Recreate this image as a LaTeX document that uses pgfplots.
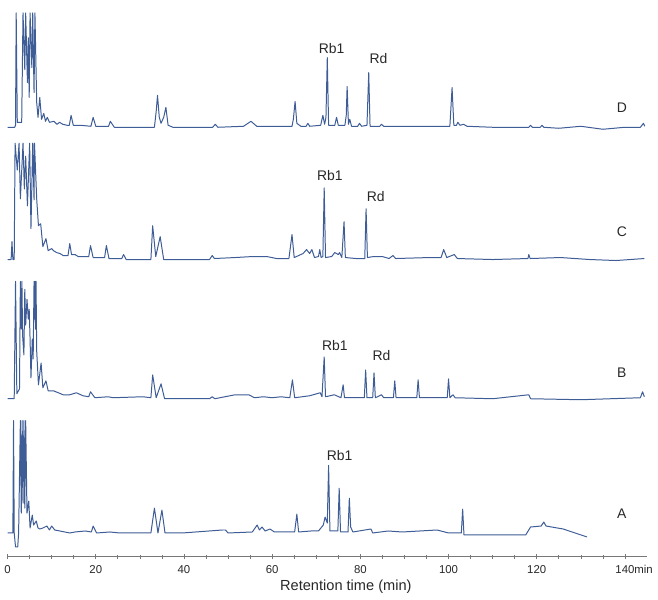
\documentclass[border=0pt]{standalone}
\usepackage{pgfplots}
\usepackage{pgfplotstable}
\pgfplotsset{compat=1.18}
\usepackage{fontspec}
\setmainfont{Liberation Sans}
\definecolor{trace}{RGB}{62,92,150}
\definecolor{axisgray}{RGB}{120,120,120}
\definecolor{labelgray}{RGB}{40,40,40}

% intensities above each trace's own baseline
\pgfplotstableread{
t y
0 0
1.6 0
1.8 2
1.95 115
2.2 5
3.2 5
3.5 115
3.9 58
4.1 115
4.5 45
4.7 90
4.9 30
5.1 115
5.5 60
5.7 115
6.0 35
6.2 115
6.6 25
6.9 10
7.3 30
7.7 8
8.2 14
8.6 6
9.0 10
9.5 5
10.5 6
11.2 3
11.8 5
12.5 3
13.5 2
14.0 2
14.4 12
14.9 2
16.5 2
18.9 1
19.4 10
20.0 1
22.9 1
23.3 6
24.2 0
28 0
33.3 0
33.7 16
34.0 32
34.4 10
34.8 4
35.4 10
35.9 20
36.4 2
37.5 0
46.5 0
47.1 3
47.7 0
53.5 1
55.2 6
56.5 1
64.5 1
64.8 8
65.2 26
65.6 4
66.5 1
67.7 1
68.1 4
68.5 1
71.0 2
71.5 12
71.9 3
72.2 10
72.5 70
72.8 2
74.2 2
74.6 10
75.0 2
76.5 2
76.8 12
77.0 41
77.3 3
77.6 8
78.0 1
79.4 1
79.8 4
80.3 1
81.5 2
81.9 55
82.2 1
84.4 1
84.8 3
85.3 1
95 1
100.3 1
100.8 40
101.2 2
101.8 2
102.1 5
102.6 2
103.4 3
104.2 1
110 0
118.2 0
118.6 2
119 0
120.8 0
121.2 2
121.6 0
125 -1
130 1
135 -2
140 0
143.5 0
144.2 4
144.5 1
}\traceD

\pgfplotstableread{
t y
0 0
0.8 0
1.0 18
1.2 0
1.5 0
1.7 117
2.2 90
2.6 117
2.9 61
3.5 117
3.8 71
4.1 104
4.5 54
5.0 117
5.3 31
5.7 117
6.0 60
6.1 117
6.6 61
7.0 34
7.5 36
8.0 13
8.7 21
9.2 9
10.0 11
10.4 9
11.1 7
11.9 6
12.6 4
13.7 4
14.1 16
14.5 5
15.3 5
16.0 3
17.1 3
18.4 3
18.8 14
19.4 2
22.0 2
22.4 14
23.0 1
25.9 1
26.3 5
26.9 0
32.5 0
32.9 34
33.6 3
34.6 23
35.4 0
45.8 0
46.4 4
46.9 1
51.6 2
55.5 3
58.8 3
61 1
63.8 1
64.5 25
65.0 2
67.0 6
67.8 10
68.5 6
69.0 10
69.6 2
70.5 3
70.8 10
71.1 2
71.5 3
71.8 72
72.1 2
73.5 3
74.2 7
75.0 5
75.3 7
75.8 2
76.3 38
76.6 2
79 1
81.0 1
81.3 51
81.6 2
83 3
85 3
86.5 1
87.4 4
88 1
95.7 2
98.3 2
98.9 10
99.6 2
101.3 5
102 1
110 0
118.0 1
118.2 5
118.5 1
125.4 2
132 0
138 -1
144.4 1
}\traceC

\pgfplotstableread{
t y
0 0
1.5 0
1.8 118
2.1 5
2.7 10
2.9 118
3.1 70
3.25 118
3.4 64
3.7 44
3.9 110
4.1 74
4.4 100
4.7 80
4.9 90
5.1 60
5.3 21
5.6 60
5.8 40
6.0 118
6.1 80
6.2 118
6.35 70
6.45 118
6.6 48
7.0 14
7.6 36
8.0 11
8.7 18
9.2 8
10.4 8
11.5 6
12.6 4
14.1 4
15.6 6
17.1 3
18.4 2
18.8 7
19.8 1
22.8 2
23.9 1
30.7 2
32.5 1
32.9 24
33.7 1
34.8 15
35.6 0
45.8 0
46.4 2
47 0
51.6 4
54.7 4
56 1
58 2
60 1
62 2
64.0 1
64.6 19
65.1 1
68.5 3
70.9 6
71.3 2
71.8 42
72.1 2
74.1 4
75.6 1
76.1 14
76.4 1
80.9 1
81.2 29
81.5 1
82.8 1
83.1 26
83.4 1
84.8 4
85.3 1
87.5 1
87.8 18
88.1 1
92.8 1
93.1 19
93.4 1
99.7 1
100.0 20
100.3 1
101 4
101.5 1
110 0
118.2 4
118.6 0
130 -1
143.5 1
144.0 7
144.4 2
}\traceB

\pgfplotstableread{
t y
0 0
1.2 0
1.35 113
1.5 0
1.8 -14
2.3 -14
2.5 0
2.9 113
3.1 20
3.3 113
3.5 30
3.7 113
3.9 25
4.1 113
4.4 20
4.8 32
5.1 5
5.6 18
5.9 8
6.5 12
6.9 5
7.3 4
8.0 5
8.9 7
9.5 3
10.0 7
10.7 3
14.1 0
15.3 1
17.6 2
19.0 1
19.4 7
20.2 0
23.2 1
25.4 0
32.5 0
33.3 25
34.1 0
35.0 23
35.7 0
39.6 0
48.7 3
49.4 3
50 0
55.5 1
56.6 8
57.1 3
57.7 6
58.4 2
59.5 4
60.5 1
65.1 1
65.6 19
66.0 1
68.8 2
70.5 2
71.6 8
72.0 16
72.5 10
72.8 68
73.1 2
74.9 2
75.2 45
75.5 1
77.2 1
77.5 35
77.8 6
78.3 1
82.4 4
82.8 0
86.3 2
89.5 1
97.4 3
100 0
102.9 0
103.2 24
103.5 -2
117.5 -2
118.6 6
121.0 7
121.6 11
122.1 7
126 4
131.4 -4
}\traceA

\begin{document}
\begin{tikzpicture}
\begin{axis}[
scale only axis,width=482.25pt,height=420pt,
xmin=0,xmax=145,ymin=0,ymax=560,
axis x line=bottom,axis y line=none,
axis line style={-,draw=axisgray,line width=0.6pt},
xtick={0,20,...,140},
xticklabels={0,20,40,60,80,100,120,{140\rlap{min}}},
minor x tick num=3,
tick align=center,
major tick length=4pt,minor tick length=3pt,
every tick/.style={axisgray,line width=0.5pt},
every minor tick/.style={axisgray,line width=0.5pt},
xticklabel style={font=\fontsize{8.6}{10}\selectfont,text=labelgray,yshift=-1pt},
xlabel={Retention time (min)},
xlabel style={font=\fontsize{11}{13}\selectfont,text=labelgray,xshift=14pt,yshift=2pt},
clip=false,
]
\addplot[trace,no markers,line width=0.75pt,line join=round] table[x=t,y expr=\thisrow{y}+432] {\traceD};
\addplot[trace,no markers,line width=0.75pt,line join=round] table[x=t,y expr=\thisrow{y}+299] {\traceC};
\addplot[trace,no markers,line width=0.75pt,line join=round] table[x=t,y expr=\thisrow{y}+159] {\traceB};
\addplot[trace,no markers,line width=0.75pt,line join=round] table[x=t,y expr=\thisrow{y}+24] {\traceA};

\begin{scope}[every node/.style={font=\fontsize{10.5}{12}\selectfont,text=labelgray}]
\node at (axis cs:139.3,452) {D};
\node at (axis cs:139.3,327) {C};
\node at (axis cs:139.3,185) {B};
\node at (axis cs:139.3,43) {A};
\node at (axis cs:73.5,511) {Rb1};
\node at (axis cs:84.1,501) {Rd};
\node at (axis cs:73.1,383) {Rb1};
\node at (axis cs:83.5,362) {Rd};
\node at (axis cs:74.2,213) {Rb1};
\node at (axis cs:84.8,202) {Rd};
\node at (axis cs:75.3,102) {Rb1};
\end{scope}
\path (axis cs:-0.9,-43) rectangle (axis cs:147.5,560);
\end{axis}
\end{tikzpicture}
\end{document}
